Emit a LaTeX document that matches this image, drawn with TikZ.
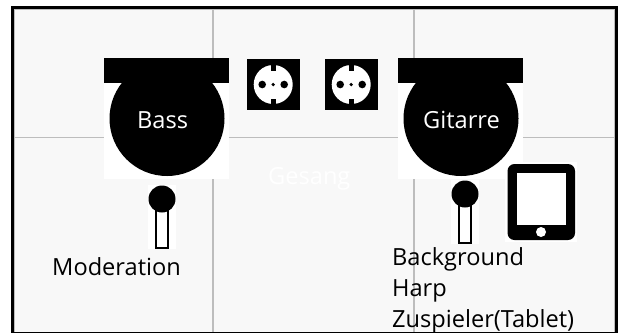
\documentclass[tikz,border=0pt]{standalone}
\usepackage{fontspec}
\setmainfont{Open Sans}
\definecolor{gridc}{HTML}{BDBDBD}
\definecolor{bgc}{HTML}{F8F8F8}
\tikzset{
  lbl/.style={inner sep=0pt,anchor=base west,font=\fontsize{23.6}{23.6}\selectfont,text=#1},
  lbl/.default=black,
  gridline/.style={draw=gridc,line width=1.4pt},
  sockethole/.style={fill=black,draw=none},
}
\newcommand{\ampunit}[1]{%
  \fill[white] (#1,83) rectangle ++(125,96);
  \fill[black] (#1+63,118.5) circle (57.5);
  \fill[black] (#1,58) rectangle ++(125,25);
}
\newcommand{\socketunit}[1]{%
  \fill[black] (#1,59) rectangle ++(52.5,51);
  \fill[white] (#1+26.2,84.5) circle (19.5);
  \fill[black] (#1+23.7,64) rectangle ++(5,6.5);
  \fill[black] (#1+23.7,98.5) rectangle ++(5,6.5);
  \fill[sockethole] (#1+15.2,84.5) circle (3.8);
  \fill[sockethole] (#1+37.2,84.5) circle (3.8);
  \fill[sockethole] (#1+26.2,84.5) circle (1.8);
}
\newcommand{\micunit}[2]{%
  \fill[white] (#1-14,#2-14) rectangle ++(28,64);
  \draw[black,line width=1.2pt,fill=white] (#1-6,#2+10) rectangle ++(12,39);
  \fill[black] (#1,#2) circle (13.5);
}
\begin{document}
\begin{tikzpicture}[x=1pt,y=-1pt]
\useasboundingbox (0,0) rectangle (621,333);
\fill[white] (0,0) rectangle (621,333);
\fill[bgc] (14,9) rectangle (615,332);
\draw[gridline] (14,137.7) -- (615,137.7);
\draw[gridline] (213,9) -- (213,332);
\draw[gridline] (414,9) -- (414,332);
\draw[gridc,line width=0.8pt] (15,9.6) -- (615,9.6);
\draw[gridc,line width=0.8pt] (14.6,9) -- (14.6,332);
\draw[gridc,line width=0.8pt] (614.4,9) -- (614.4,332);
\draw[black,line width=3pt] (11,7.5) -- (618,7.5);
\draw[black,line width=3pt] (12.5,6) -- (12.5,333);
\draw[black,line width=3pt] (616.5,6) -- (616.5,333);
\draw[black,line width=1pt] (11,332.5) -- (618,332.5);
\ampunit{104}
\ampunit{398}
\socketunit{247}
\socketunit{325}
\micunit{162}{199}
\micunit{465}{194}
\fill[white] (505,162) rectangle (577,242);
\fill[black,rounded corners=7pt] (507.5,164) rectangle (575,240);
\fill[white] (517,172.5) rectangle (566,225);
\fill[white] (541,232) circle (5);
\node[lbl=white] (bass) at (137,128) {Bass};
\node[lbl=white] (gitarre) at (423,128) {Gitarre};
\node[lbl=white] (gesang) at (268,184) {Gesang};
\node[lbl] (moderation) at (52,275) {Moderation};
\node[lbl] (background) at (392,265) {Background};
\node[lbl] (harp) at (392,296) {Harp};
\node[lbl] (zuspieler) at (392,327) {Zuspieler(Tablet)};
\end{tikzpicture}
\end{document}
